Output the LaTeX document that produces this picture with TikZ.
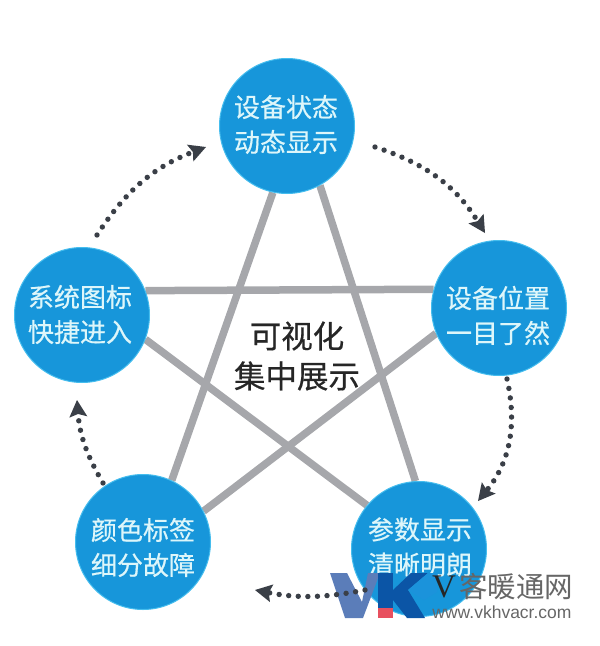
\documentclass[tikz,border=0pt]{standalone}
\usepackage{fontspec}
\setmainfont{Noto Sans CJK SC}
\newfontfamily\boldcjk[FakeBold=0.5]{Noto Sans CJK SC}
\usetikzlibrary{arrows.meta,backgrounds}
\definecolor{hub}{HTML}{1796DA}
\definecolor{hubedge}{HTML}{45BDEE}
\definecolor{hubtx}{HTML}{DDF6FA}
\definecolor{spoke}{HTML}{A6A7AB}
\definecolor{dotc}{HTML}{3A3F47}
\definecolor{wmv}{HTML}{5B7DB9}
\definecolor{wmk}{HTML}{0B55A6}
\definecolor{wml}{HTML}{1B93DB}
\definecolor{wmr}{HTML}{E8505F}
\definecolor{wmt}{HTML}{666666}
\tikzset{
  hubnode/.style={circle,fill=hub,draw=hubedge,line width=1pt,minimum size=135pt,inner sep=0pt},
  hubtext/.style={inner sep=0pt,text=hubtx,align=center,font=\boldcjk\fontsize{26}{35}\selectfont},
  starline/.style={draw=spoke,line width=7.5pt},
  flow/.style={draw=dotc,line width=5.4pt,line cap=round,dash pattern=on 0pt off 9.6pt,
    -{Stealth[length=17pt,width=18pt,inset=3pt,line width=0pt,fill=dotc]}},
  centertext/.style={inner sep=0pt,text=black!85,align=center,font=\boldcjk\fontsize{31.5}{40}\selectfont}
}
\begin{document}
\begin{tikzpicture}[x=1pt,y=-1pt]
\useasboundingbox (0,0) rectangle (600,646);
\node[hubnode] (top) at (287,126) {};
\node[hubnode] (right) at (499,308) {};
\node[hubnode] (br) at (419,549) {};
\node[hubnode] (bl) at (143,542) {};
\node[hubnode] (left) at (82,315) {};
\node[hubtext] (toptx) at (286,124.5) {设备状态\\动态显示};
\node[hubtext] (righttx) at (498,315.5) {设备位置\\一目了然};
\node[hubtext] (brtx) at (420,547) {参数显示\\清晰明朗};
\node[hubtext] (bltx) at (143,547.5) {颜色标签\\细分故障};
\node[hubtext] (lefttx) at (80,314.5) {系统图标\\快捷进入};
\node[centertext] (mid) at (297,356) {可视化\\集中展示};
\begin{scope}[on background layer]
\draw[starline] (top.258) -- (bl.65);
\draw[starline] (top.299) -- (br.93);
\draw[starline] (left.21.6) -- (right.164.6);
\draw[starline] (left.-21.6) -- (br.140);
\draw[starline] (right.202) -- (bl.27);
\end{scope}
% watermark
\fill[wmv] (330,573) -- (347,573) -- (362,602) -- (368,573) -- (380,573) -- (363,618) -- (345,618) -- cycle;
\fill[wmk] (378,573) -- (393,573) -- (393,608) -- (378,608) -- cycle;
\fill[wmr] (378,608) -- (393,608) -- (393,618) -- (378,618) -- cycle;
\fill[wmk] (393,590) -- (411,573) -- (428,573) -- (408,590) -- (425,618) -- (407,618) -- (393,600) -- cycle;
\fill[wml] (408,590) -- (428,573) -- (437,573) -- (437,592) -- (424,600) -- cycle;
\node[inner sep=0pt,text=black!85,font=\fontspec{Liberation Serif}\fontsize{33}{33}\selectfont] (wv) at (444,587) {V};
\node[inner sep=0pt,text=wmt,font=\fontsize{28.5}{28}\selectfont] (wc) at (516,587) {客暖通网};
\node[inner sep=0pt,text=wmt,font=\fontspec{Liberation Sans}\fontsize{17.5}{18}\selectfont] (wu) at (502,612) {www.vkhvacr.com};
% flow arrows
\coordinate (a1) at (97,235);
\coordinate (a2) at (206,147);
\coordinate (b1) at (375,147);
\coordinate (b2) at (485,233);
\coordinate (c1) at (507,379);
\coordinate (c2) at (478,501);
\coordinate (d1) at (365,590);
\coordinate (d2) at (255,590);
\coordinate (e1) at (103,483);
\coordinate (e2) at (77,400);
\draw[flow] (a1) to[bend left=18] (a2);
\draw[flow] (b1) to[bend left=20] (b2);
\draw[flow] (c1) to[bend left=26] (c2);
\draw[flow] (d1) to[bend left=11] (d2);
\draw[flow] (e1) to[bend left=13] (e2);
\end{tikzpicture}
\end{document}
